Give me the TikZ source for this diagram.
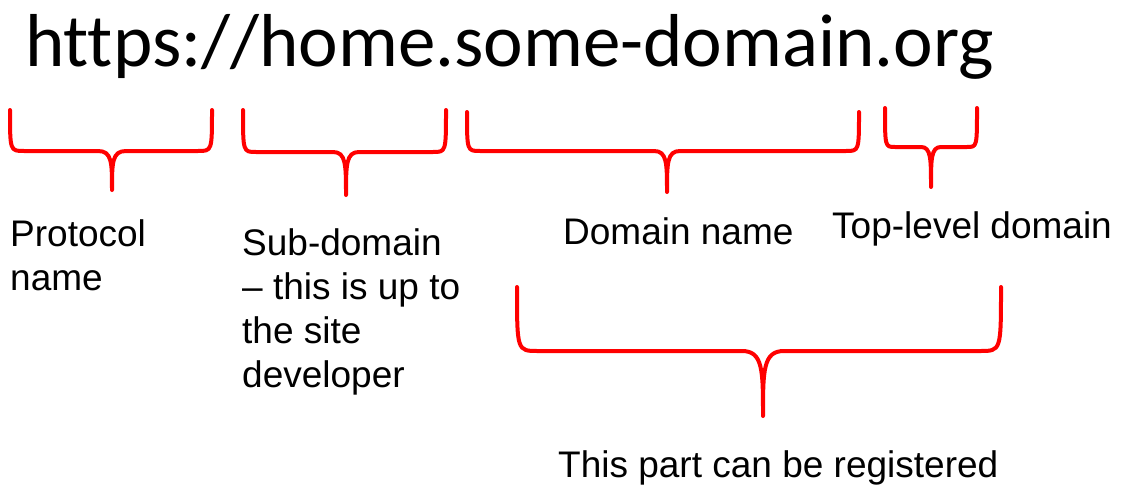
\documentclass[tikz,border=0pt]{standalone}
\usepackage{fontspec}
\setmainfont{Liberation Sans}
\newfontfamily\urlfont[Ligatures=NoCommon]{Carlito}
\tikzset{brace/.style={red, line width=4pt, line cap=round, line join=round},
         lbl/.style={anchor=base west, inner sep=0pt, align=left, font=\fontsize{37}{44}\selectfont}}
% #1 left, #2 right, #3 tip x, #4 top, #5 middle, #6 tip y, #7 corner
\newcommand{\urlbrace}[7]{%
\draw[brace] (#1,#4) .. controls (#1,#5) .. ({#1+#7},#5) -- ({#3-#7},#5)
  .. controls (#3,#5) and (#3,{#5+0.3*(#6-#5)}) .. (#3,#6)
  .. controls (#3,{#5+0.3*(#6-#5)}) and (#3,#5) .. ({#3+#7},#5) -- ({#2-#7},#5)
  .. controls (#2,#5) .. (#2,#4);}
\begin{document}
\begin{tikzpicture}[x=1pt,y=-1pt]
\useasboundingbox (0,0) rectangle (1140,490);
\node[anchor=base west, inner sep=0pt, font=\urlfont\fontsize{75}{80}\selectfont] (url) at (25,66) {https://home.some-domain.org};

\urlbrace{10}{212}{112}{110}{151}{190}{14}
\urlbrace{243}{446}{346}{110}{152}{195}{13}
\urlbrace{467}{859}{667}{112}{151}{192}{13}
\urlbrace{885}{977}{931}{108}{147}{187}{10}
\urlbrace{517}{1001}{763}{287}{351}{416}{21}

% multi-line labels sit on the baseline of their last line
\node[lbl] (proto) at (10,290) {Protocol\\name};
\node[lbl] (sub) at (242,387) {Sub-domain\\– this is up to\\the site\\developer};
\node[lbl] (dom) at (563,244) {Domain name};
\node[lbl] (tld) at (832,238) {Top-level domain};
\node[lbl] (reg) at (558,477) {This part can be registered};
\end{tikzpicture}
\end{document}
